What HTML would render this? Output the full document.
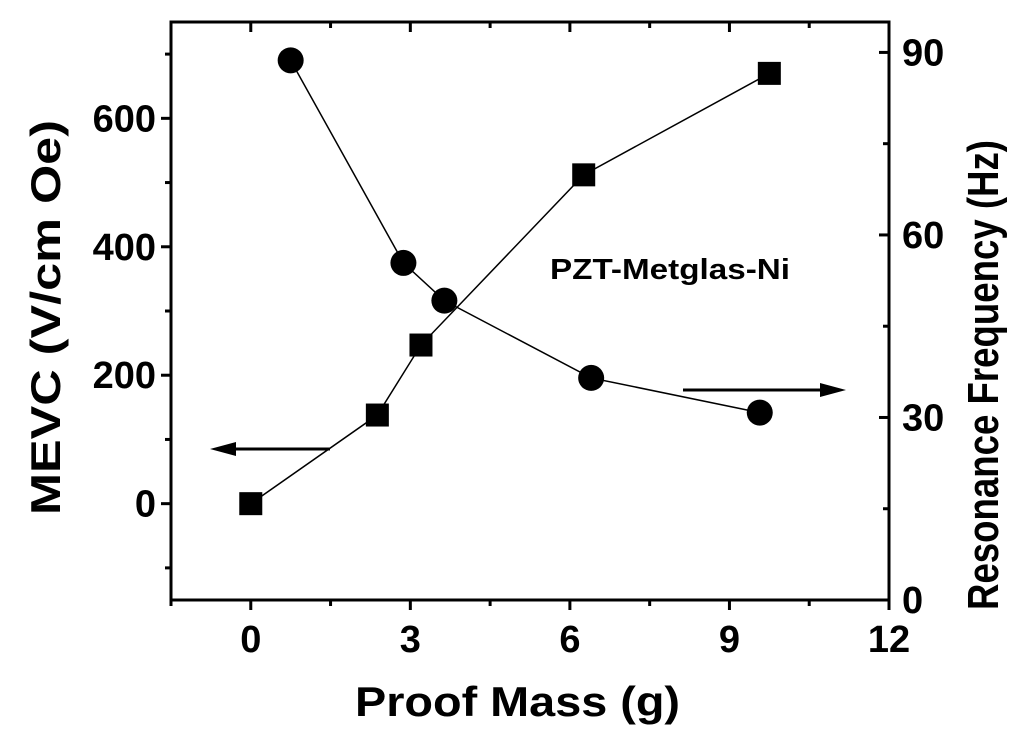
<!DOCTYPE html>
<html><head><meta charset="utf-8"><style>
body{margin:0;background:#fff}
svg text{font-family:"Liberation Sans",sans-serif;font-weight:bold;fill:#000}
</style></head><body>
<svg id="c" width="1024" height="743" xmlns="http://www.w3.org/2000/svg"></svg>
<script>
const massSq=[0,2.38,3.2,6.26,9.75];
const mevc=[0,138,247,512,670];
const massCi=[0.75,2.87,3.64,6.4,9.57];
const freq=[88.7,55.4,49.2,36.5,30.8];
const xTicks=[0,3,6,9,12];
const yTicks=[0,200,400,600];
const y2Ticks=[0,30,60,90];
const L=171,R=889,T=22,B=600;
const X=v=>L+(v+1.5)/13.5*(R-L);
const Y=v=>B-(v+150)/900*(B-T);
const Y2=v=>B-v/95*(B-T);
const s=document.getElementById('c');
function add(tag,attrs,txt){const e=document.createElementNS('http://www.w3.org/2000/svg',tag);for(const k in attrs)e.setAttribute(k,attrs[k]);if(txt!==undefined)e.textContent=txt;s.appendChild(e);return e;}
let e;
e=add('rect',{x:L,y:T,width:R-L,height:B-T,fill:'none',stroke:'#000','stroke-width':3});


for(let v=-1.5;v<=12.01;v+=1.5){const major=xTicks.includes(v);
 e=add('line',{x1:X(v),x2:X(v),y1:B,y2:B+(major?10:6),stroke:'#000','stroke-width':3});
 
 
 e=add('line',{x1:X(v),x2:X(v),y1:T,y2:T+(major?10:6),stroke:'#000','stroke-width':3});
 
 }
xTicks.forEach(v=>{e=add('text',{x:X(v),y:652,'font-size':38,'text-anchor':'middle'},v);
 
 });
for(let v=-100;v<=700;v+=100){const major=yTicks.includes(v);
 e=add('line',{x1:L-(major?10:6),x2:L,y1:Y(v),y2:Y(v),stroke:'#000','stroke-width':3});
 
 }
yTicks.forEach(v=>{e=add('text',{x:156,y:Y(v)+13,'font-size':38,'text-anchor':'end'},v);
 
 });
for(let v=0;v<=90;v+=15){const major=y2Ticks.includes(v);
 e=add('line',{x1:R-(major?10:6),x2:R,y1:Y2(v),y2:Y2(v),stroke:'#000','stroke-width':3});
 
 }
y2Ticks.forEach(v=>{e=add('text',{x:902,y:Y2(v)+13,'font-size':38},v);
 
 });
e=add('text',{x:355,y:716,'font-size':42,textLength:325,lengthAdjust:'spacingAndGlyphs'},'Proof Mass (g)');


e=add('text',{x:0,y:0,'font-size':42,textLength:395,lengthAdjust:'spacingAndGlyphs',transform:'translate(60,515) rotate(-90)'},'MEVC (V/cm Oe)');


e=add('text',{x:0,y:0,'font-size':44,textLength:470,lengthAdjust:'spacingAndGlyphs',transform:'translate(998,610) rotate(-90)'},'Resonance Frequency (Hz)');


e=add('text',{x:550,y:279,'font-size':29,textLength:240,lengthAdjust:'spacingAndGlyphs'},'PZT-Metglas-Ni');


e=add('polyline',{points:massSq.map((m,i)=>X(m)+','+Y(mevc[i])).join(' '),fill:'none',stroke:'#000','stroke-width':1.5});


e=add('polyline',{points:massCi.map((m,i)=>X(m)+','+Y2(freq[i])).join(' '),fill:'none',stroke:'#000','stroke-width':1.5});


massSq.forEach((m,i)=>{e=add('rect',{x:X(m)-11.5,y:Y(mevc[i])-11.5,width:23,height:23,fill:'#000'});
 
 });
massCi.forEach((m,i)=>{e=add('circle',{cx:X(m),cy:Y2(freq[i]),r:13,fill:'#000'});
 
 });
e=add('line',{x1:330,x2:222,y1:449,y2:449,stroke:'#000','stroke-width':3});


e=add('polygon',{points:'210,449 236,442 236,456',fill:'#000'});


e=add('line',{x1:683,x2:833,y1:390,y2:390,stroke:'#000','stroke-width':3});


e=add('polygon',{points:'846,390 820,383 820,397',fill:'#000'});


</script>
</body></html>
